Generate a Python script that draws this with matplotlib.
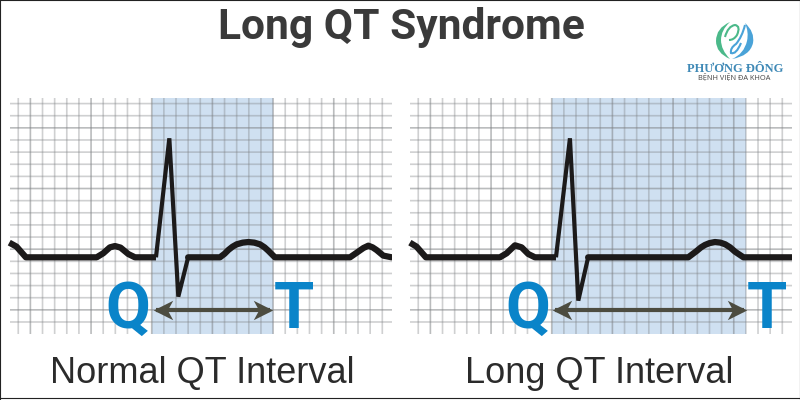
import matplotlib
matplotlib.use("Agg")
import matplotlib.pyplot as plt
from matplotlib.lines import Line2D
from matplotlib.patches import PathPatch
from matplotlib.path import Path

# ECG traces, in small grid boxes (x from first grid line, y from the line under the baseline)
normal_x = [-0.74, -0.14, 0.63, 6.46, 7.0, 7.55, 7.97, 8.43, 9.07, 9.62, 11.35, 12.45, 13.19, 14.0,
            16.62, 17.0, 17.31, 17.65, 18.0, 18.5, 18.96, 19.45, 19.92, 20.3, 20.6, 21.15,
            27.34, 28.02, 28.45, 28.85, 29.2, 29.53, 30.08, 30.77]
normal_y = [1.54, 1.21, 0.33, 0.33, 0.66, 1.15, 1.26, 1.13, 0.6, 0.33, 0.33, 10.14, -2.91, 0.33,
            0.33, 0.62, 0.93, 1.2, 1.4, 1.54, 1.59, 1.54, 1.4, 1.15, 0.88, 0.33,
            0.33, 0.8, 1.1, 1.29, 1.15, 0.93, 0.47, 0.33]
long_x = [-0.69, -0.14, 0.63, 6.73, 7.28, 7.97, 8.52, 9.07, 9.62, 11.35, 12.5, 13.19, 14.0,
          22.25, 22.94, 23.3, 23.63, 24.0, 24.45, 24.9, 25.3, 25.7, 26.1, 26.8, 30.77]
long_y = [1.54, 1.21, 0.33, 0.33, 0.66, 1.32, 1.15, 0.6, 0.33, 0.33, 10.14, -3.24, 0.33,
          0.33, 0.85, 1.15, 1.35, 1.5, 1.59, 1.54, 1.4, 1.15, 0.8, 0.33, 0.33]

# where the QRS spike starts and ends in each trace
normal_qrs = [10, 13]
long_qrs = [9, 12]

# QT interval (shaded band and arrow) and letter positions
normal_band = [11.04, 21.0]
long_band = [11.04, 26.98]
normal_arrow = [11.35, 20.74]
long_arrow = [11.26, 26.84]
normal_t_x = 22.69
long_t_x = 28.74
q_x = 9.07

panel_labels = ["Normal QT Interval", "Long QT Interval"]
title = "Long QT Syndrome"

W, H = 800, 400
fig = plt.figure(figsize=(W / 100, H / 100), dpi=100, facecolor="white")

# barbed arrow heads pointing right and left
head_r = Path([(1, 0), (-1, 1), (-0.45, 0), (-1, -1), (1, 0)], closed=True)
head_l = Path([(-1, 0), (1, 1), (0.45, 0), (1, -1), (-1, 0)], closed=True)


def draw_panel(left_px, xs, ys, qrs, band, arrow, t_x):
    ax = fig.add_axes([left_px / W, 1 - 334 / H, 382 / W, 236 / H])
    ax.set_xlim(-0.68, 30.8)
    ax.set_ylim(-5.99, 13.46)
    ax.axvspan(band[0], band[1], color="#cfe0f1", lw=0, zorder=0)

    # small boxes, every fifth line a bit darker
    for i in range(0, 31):
        major = (i - 1) % 5 == 0
        ax.axvline(i, color="#7c7f82", alpha=0.52 if major else 0.36, lw=1.2, snap=False, zorder=1)
    for j in range(-5, 14):
        major = (j - 1) % 5 == 0
        ax.axhline(j, color="#7c7f82", alpha=0.52 if major else 0.36, lw=1.2, snap=False, zorder=1)

    # baseline thicker than the spike
    ax.plot(xs[:qrs[0] + 1], ys[:qrs[0] + 1], lw=4.5, color="#1c1a1a", solid_joinstyle="round",
            solid_capstyle="butt", clip_on=False, zorder=3)
    ax.plot(xs[qrs[1]:], ys[qrs[1]:], lw=4.5, color="#1c1a1a", solid_joinstyle="round",
            solid_capstyle="round", zorder=3)
    ax.plot(xs[qrs[0]:qrs[1] + 1], ys[qrs[0]:qrs[1] + 1], lw=3.0, color="#1c1a1a", solid_joinstyle="miter",
            solid_capstyle="butt", clip_on=False, zorder=3)

    ax.plot(arrow, [-4.01, -4.01], color="#4c4c40", lw=3.0, solid_capstyle="butt", zorder=4)
    ax.plot(arrow[0] + 0.55, -4.01, marker=head_l, ms=14, color="#4c4c40", mew=0, zorder=4)
    ax.plot(arrow[1] - 0.55, -4.01, marker=head_r, ms=14, color="#4c4c40", mew=0, zorder=4)

    ax.text(q_x, -5.52, "Q", color="#0a84c9", fontsize=47, fontweight="bold", family="Roboto",
            ha="center", va="baseline", zorder=5)
    ax.text(t_x, -5.52, "T", color="#0a84c9", fontsize=47, fontweight="bold", family="Roboto",
            ha="center", va="baseline", zorder=5)
    ax.axis("off")


draw_panel(10, normal_x, normal_y, normal_qrs, normal_band, normal_arrow, normal_t_x)
draw_panel(410, long_x, long_y, long_qrs, long_band, long_arrow, long_t_x)

fig.text(401 / W, 1 - 39 / H, title, color="#3a3a3a", fontsize=30.6, fontweight="bold", family="Roboto",
         ha="center", va="baseline")
fig.text(202 / W, 1 - 383 / H, panel_labels[0], color="#2b2b2b", fontsize=26, family="Liberation Sans",
         ha="center", va="baseline")
fig.text(599 / W, 1 - 383 / H, panel_labels[1], color="#2b2b2b", fontsize=26, family="Liberation Sans",
         ha="center", va="baseline")

# logo, drawn in pixels of its own small box
logo = fig.add_axes([670 / W, 1 - 100 / H, 130 / W, 90 / H])
logo.set_xlim(0, 130)
logo.set_ylim(90, 0)
logo.axis("off")
C = Path.CURVE3
green = Path([(60, 12), (46, 18), (46, 31), (46, 43), (60, 49), (51, 40), (51, 30), (51, 20), (60, 12)],
             [Path.MOVETO, C, C, C, C, C, C, C, C])
blue = Path([(75, 13), (85, 22), (83, 33), (80, 46), (62, 49), (74, 44), (77, 31), (79, 22), (75, 13)],
            [Path.MOVETO, C, C, C, C, C, C, C, C])
logo.add_patch(PathPatch(green, facecolor="#4bb98a", edgecolor="none"))
logo.add_patch(PathPatch(blue, facecolor="#4aa3d8", edgecolor="none"))
p_stroke = Path([(55, 27), (58, 16), (65, 15), (71, 16), (67, 25), (64, 30), (59, 30)],
                [Path.MOVETO, C, C, C, C, C, C])
d_stroke = Path([(75, 15), (72, 27), (66, 34), (60, 38), (61, 43), (66, 45), (71, 33)],
                [Path.MOVETO, C, C, C, C, C, C])
logo.add_patch(PathPatch(p_stroke, facecolor="none", edgecolor="#4bb98a", lw=1.5))
logo.add_patch(PathPatch(d_stroke, facecolor="none", edgecolor="#4aa3d8", lw=1.5))
logo.text(65, 62, "PHƯƠNG ĐÔNG", color="#3f89b6", fontsize=9.0, fontweight="bold", family="Liberation Serif",
          ha="center", va="baseline")
logo.text(64, 69.5, "BỆNH VIỆN ĐA KHOA", color="#444444", fontsize=5.3, family="Open Sans",
          ha="center", va="baseline")

# thin dark edge of the picture
for xs_edge, ys_edge in [([0.0006, 0.0006], [0, 1]), ([0.9994, 0.9994], [0, 1]),
                         ([0, 1], [0.9988, 0.9988]), ([0, 1], [0.0038, 0.0038])]:
    fig.add_artist(Line2D(xs_edge, ys_edge, color="#222222", lw=0.8))

plt.savefig("out.png", dpi=100)
plt.close()
